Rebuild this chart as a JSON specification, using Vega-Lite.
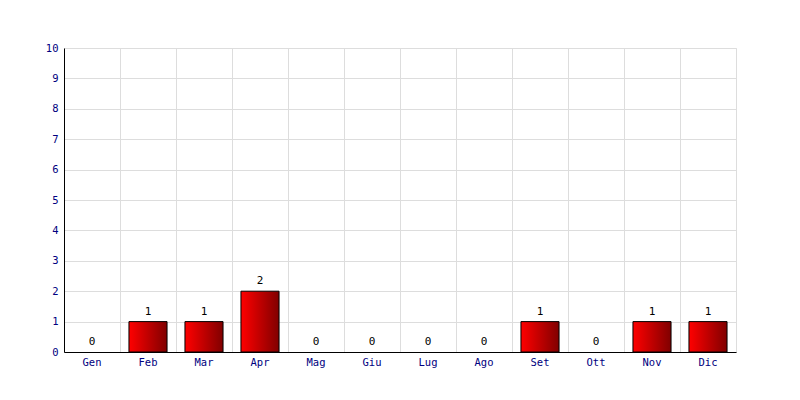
{
  "$schema": "https://vega.github.io/schema/vega-lite/v6.json",
  "width": 672,
  "height": 304,
  "autosize": "none",
  "padding": {"left": 64, "top": 48, "right": 64, "bottom": 48},
  "background": "white",
  "config": {
    "view": {"stroke": "#dddddd", "strokeWidth": 1},
    "font": "DejaVu Sans Mono"
  },
  "data": {
    "values": [
      {"mese": "Gen", "valore": 0},
      {"mese": "Feb", "valore": 1},
      {"mese": "Mar", "valore": 1},
      {"mese": "Apr", "valore": 2},
      {"mese": "Mag", "valore": 0},
      {"mese": "Giu", "valore": 0},
      {"mese": "Lug", "valore": 0},
      {"mese": "Ago", "valore": 0},
      {"mese": "Set", "valore": 1},
      {"mese": "Ott", "valore": 0},
      {"mese": "Nov", "valore": 1},
      {"mese": "Dic", "valore": 1}
    ]
  },
  "encoding": {
    "x": {
      "field": "mese",
      "type": "nominal",
      "sort": ["Gen", "Feb", "Mar", "Apr", "Mag", "Giu", "Lug", "Ago", "Set", "Ott", "Nov", "Dic"],
      "scale": {"paddingInner": 0, "paddingOuter": 0},
      "axis": {
        "title": null,
        "labelAngle": 0,
        "labelFont": "DejaVu Sans Mono",
        "labelFontSize": 10.5,
        "labelColor": "#000080",
        "labelPadding": 5,
        "ticks": false,
        "domainColor": "#000000",
        "domainWidth": 1,
        "grid": true,
        "gridColor": "#dddddd",
        "gridWidth": 1,
        "bandPosition": 0
      }
    },
    "y": {
      "field": "valore",
      "type": "quantitative",
      "scale": {"domain": [0, 10], "nice": false},
      "axis": {
        "title": null,
        "values": [0, 1, 2, 3, 4, 5, 6, 7, 8, 9, 10],
        "labelFont": "DejaVu Sans Mono",
        "labelFontSize": 10.5,
        "labelColor": "#000080",
        "labelPadding": 6,
        "ticks": false,
        "domainColor": "#000000",
        "domainWidth": 1,
        "grid": true,
        "gridColor": "#dddddd",
        "gridWidth": 1
      }
    }
  },
  "layer": [
    {
      "transform": [{"filter": "datum.valore > 0"}],
      "mark": {
        "type": "bar",
        "width": {"band": 0.68},
        "stroke": "#000000",
        "strokeWidth": 1,
        "color": {
          "gradient": "linear",
          "x1": 0, "x2": 1, "y1": 0, "y2": 0,
          "stops": [
            {"offset": 0, "color": "#ff0000"},
            {"offset": 1, "color": "#800000"}
          ]
        }
      }
    },
    {
      "mark": {
        "type": "text",
        "baseline": "middle",
        "dy": -10,
        "font": "DejaVu Sans Mono",
        "fontSize": 11,
        "color": "#000000"
      },
      "encoding": {"text": {"field": "valore", "type": "quantitative"}}
    }
  ]
}
